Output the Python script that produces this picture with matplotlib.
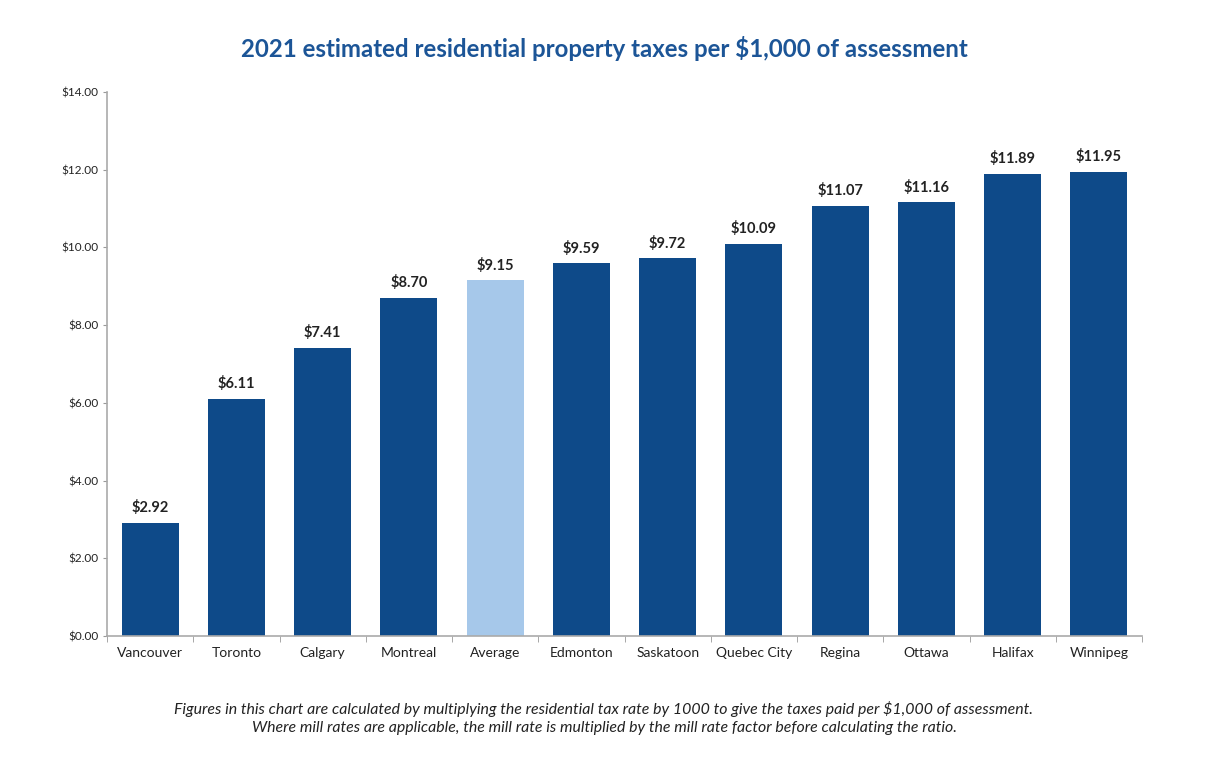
import numpy as np
import matplotlib
matplotlib.use("Agg")
import matplotlib.pyplot as plt
from matplotlib.ticker import FixedLocator

plt.rcParams['font.family'] = ['Lato', 'DejaVu Sans']

cities = ["Vancouver", "Toronto", "Calgary", "Montreal", "Average", "Edmonton",
          "Saskatoon", "Quebec City", "Regina", "Ottawa", "Halifax", "Winnipeg"]
taxes = [2.92, 6.11, 7.41, 8.70, 9.15, 9.59, 9.72, 10.09, 11.07, 11.16, 11.89, 11.95]
yticks = [0, 2, 4, 6, 8, 10, 12, 14]

dark = "#0E4A89"
light = "#A6C8EA"
colors = [light if c == "Average" else dark for c in cities]

fig = plt.figure(figsize=(12.08, 7.66), dpi=100)
ax = fig.add_axes([0.0886, 0.1697, 0.8568, 0.7102])

x = np.arange(len(cities))
bars = ax.bar(x, taxes, width=0.66, color=colors)

for xi, v in zip(x, taxes):
    ax.text(xi, v + 0.2, f"${v:.2f}", ha="center", va="bottom",
            fontsize=10.5, fontweight="bold", color="#222222")

ax.set_xlim(-0.5, len(cities) - 0.5)
ax.set_ylim(0, 14)
ax.set_xticks(x)
ax.set_xticklabels(cities, fontsize=10, color="#222222")
ax.xaxis.set_minor_locator(FixedLocator(np.arange(-0.5, len(cities), 1)))
ax.tick_params(axis="x", which="major", length=0, pad=8)
ax.tick_params(axis="x", which="minor", length=4, color="#999999")
ax.set_yticks(yticks)
ax.set_yticklabels([f"${t:.2f}" for t in yticks], fontsize=8.5, color="#222222")
ax.tick_params(axis="y", length=3, color="#999999", pad=3)

for s in ["top", "right"]:
    ax.spines[s].set_visible(False)
for s in ["left", "bottom"]:
    ax.spines[s].set_color("#AAAAAA")
    ax.spines[s].set_linewidth(1.2)

fig.text(0.5, 0.937, "2021 estimated residential property taxes per $1,000 of assessment",
         ha="center", va="center", fontsize=17.3, fontweight="bold", color="#1C5597")

fig.text(0.5, 0.074, "Figures in this chart are calculated by multiplying the residential tax rate by 1000 to give the taxes paid per $1,000 of assessment.",
         ha="center", va="center", fontsize=11.4, style="italic", color="#222222")
fig.text(0.5, 0.049, "Where mill rates are applicable, the mill rate is multiplied by the mill rate factor before calculating the ratio.",
         ha="center", va="center", fontsize=11.4, style="italic", color="#222222")

fig.savefig("out.png", dpi=100)
